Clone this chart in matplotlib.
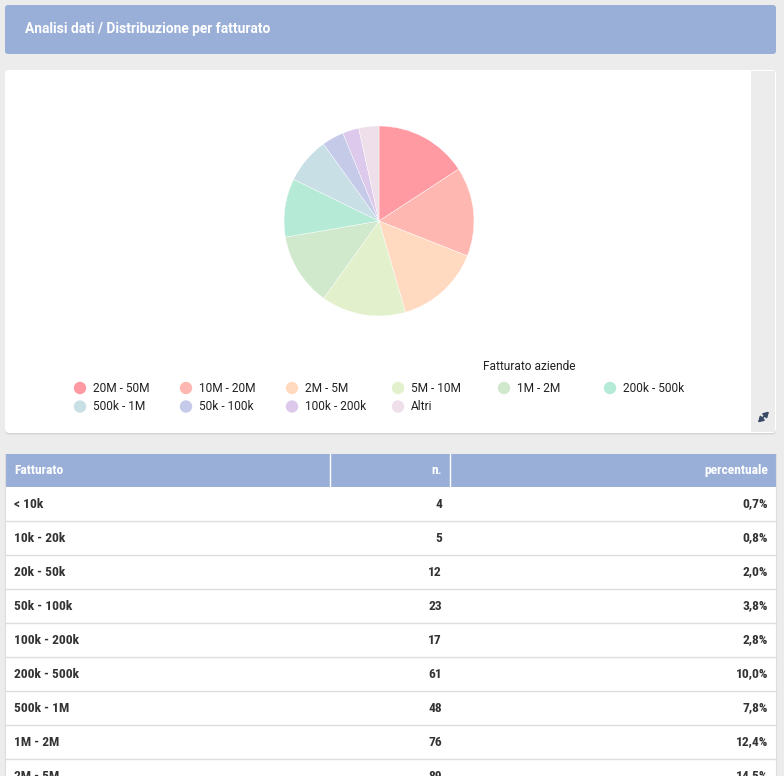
import matplotlib.pyplot as plt
from matplotlib.patches import Rectangle, FancyBboxPatch, Circle

# pie data (clockwise from top)
pie_labels = ["20M - 50M", "10M - 20M", "2M - 5M", "5M - 10M", "1M - 2M",
              "200k - 500k", "500k - 1M", "50k - 100k", "100k - 200k", "Altri"]
pie_values = [97, 93, 89, 88, 76, 61, 48, 23, 17, 21]
pie_colors = ["#ff9aa2", "#ffb7b2", "#ffdac1", "#e2f0cb", "#d0e8cc",
              "#b5ead7", "#c7dfe5", "#c5cae9", "#dcc9ec", "#eedfea"]

# table data
table_labels = ["< 10k", "10k - 20k", "20k - 50k", "50k - 100k", "100k - 200k",
                "200k - 500k", "500k - 1M", "1M - 2M", "2M - 5M"]
table_counts = [4, 5, 12, 23, 17, 61, 48, 76, 89]
table_pct = ["0,7%", "0,8%", "2,0%", "3,8%", "2,8%", "10,0%", "7,8%", "12,4%", "14,5%"]

W, H = 784, 776
blue = "#9aafd8"
txt = "#333333"
font = "Roboto"
tfont = ["Roboto Condensed", "Barlow Semi Condensed", "Asap Condensed"]

fig = plt.figure(figsize=(W / 100, H / 100), dpi=100, facecolor="#ececec")
ax = fig.add_axes([0, 0, 1, 1])
ax.set_xlim(0, W)
ax.set_ylim(H, 0)
ax.axis("off")

# header
ax.add_patch(FancyBboxPatch((5, 5), 771, 49, boxstyle="round,pad=0,rounding_size=3",
                            fc=blue, ec="none"))
ax.text(25, 29.5, "Analisi dati / Distribuzione per fatturato", color="white",
        fontsize=9.9, fontweight="bold", family=font, va="center")

# chart card
ax.add_patch(FancyBboxPatch((5, 71.5), 771, 363, boxstyle="round,pad=0,rounding_size=4",
                            fc="#d6d6d6", ec="none"))
ax.add_patch(FancyBboxPatch((5, 70), 771, 363, boxstyle="round,pad=0,rounding_size=4",
                            fc="white", ec="none"))
ax.add_patch(Rectangle((751, 71), 24, 361, fc="#ececec", ec="none"))
# expand icon
ax.annotate("", xy=(769, 411.5), xytext=(758, 422.5),
            arrowprops=dict(arrowstyle="<|-|>,head_length=0.3,head_width=0.18",
                            color="#3a4a66", lw=1.3, shrinkA=0, shrinkB=0))

# legend
ax.text(529, 366, "Fatturato aziende", color="#222222", fontsize=8.6, family=font,
        va="center", ha="center")
for i, (lab, col) in enumerate(zip(pie_labels, pie_colors)):
    r, c = divmod(i, 6)
    x = 80 + c * 106
    y = 388 + r * 18.5
    ax.add_patch(Circle((x, y), 6.2, fc=col, ec="none"))
    ax.text(x + 13, y + 0.5, lab, color="#222222", fontsize=8.6, family=font, va="center")

# pie
R = 95
cx, cy = 379, 221
pax = fig.add_axes([(cx - R) / W, 1 - (cy + R) / H, 2 * R / W, 2 * R / H])
pax.pie(pie_values, colors=pie_colors, startangle=90, counterclock=False,
        wedgeprops=dict(edgecolor="white", linewidth=0.3))
pax.set_aspect("auto")
pax.set_xlim(-1, 1)
pax.set_ylim(-1, 1)
pax.axis("off")

# table
ty = 454
ax.add_patch(Rectangle((5, ty), 771, H - ty + 5, fc="white", ec="none"))
ax.add_patch(Rectangle((5, ty), 771, 33, fc=blue, ec="none"))
ax.plot([330, 330], [ty, ty + 33], color="white", lw=1)
ax.plot([450, 450], [ty, ty + 33], color="white", lw=1)
hy = ty + 16.5
fs = 9.7
ax.text(14, hy, "Fatturato", color="white", fontsize=fs, fontweight="bold", family=tfont, va="center")
ax.text(442, hy, "n.", color="white", fontsize=fs, fontweight="bold", family=tfont, va="center", ha="right")
ax.text(768, hy, "percentuale", color="white", fontsize=fs, fontweight="bold", family=tfont,
        va="center", ha="right")
rh = 34
for i, (lab, n, p) in enumerate(zip(table_labels, table_counts, table_pct)):
    y0 = ty + 33 + i * rh
    yc = y0 + rh / 2
    ax.text(14, yc, lab, color=txt, fontsize=fs, fontweight="bold", family=tfont, va="center")
    ax.text(442, yc, str(n), color=txt, fontsize=fs, fontweight="bold", family=tfont,
            va="center", ha="right")
    ax.text(768, yc, p, color=txt, fontsize=fs, fontweight="bold", family=tfont,
            va="center", ha="right")
    ax.plot([5, 776], [y0 + rh, y0 + rh], color="#dddddd", lw=1)
ax.plot([5, 5], [ty, H], color="#dddddd", lw=0.8)
ax.plot([776, 776], [ty, H], color="#dddddd", lw=0.8)

fig.savefig("out.png", dpi=100, facecolor=fig.get_facecolor())
